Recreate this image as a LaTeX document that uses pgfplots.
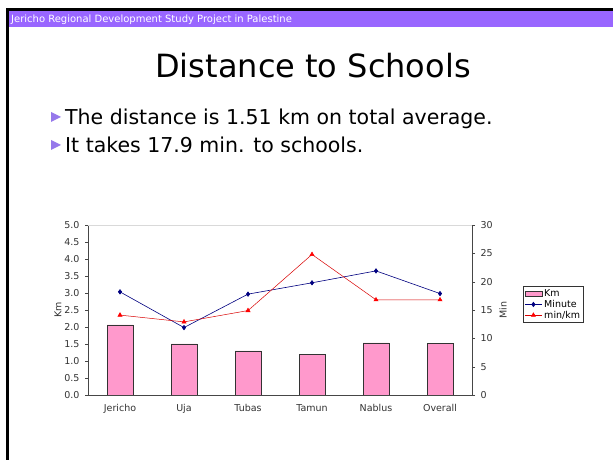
\documentclass[border=0pt]{standalone}
\usepackage{pgfplots}
\pgfplotsset{compat=1.18}
\usepackage{fontspec}
\setmainfont{DejaVu Sans}

\definecolor{hdrpurple}{RGB}{153,102,255}
\definecolor{bulletpurple}{RGB}{150,120,235}
\definecolor{barpink}{RGB}{255,153,204}
\definecolor{navyline}{RGB}{0,0,128}
\definecolor{axisgray}{RGB}{70,70,70}

\begin{document}
\begin{tikzpicture}[x=1pt,y=1pt]
\path[use as bounding box, fill=white] (0,0) rectangle (613,460);

% slide frame and header bar
\fill[hdrpurple] (9,433) rectangle (613,449.5);
\draw[black, line width=2.5pt] (7.5,0) -- (7.5,450.5) -- (613,450.5);
\node[anchor=base west, text=white, inner sep=0pt, font=\fontsize{10}{11}\selectfont]
  at (11,437) {Jericho Regional Development Study Project in Palestine};

% title and bullets
\node[anchor=base, inner sep=0pt, font=\fontsize{32}{36}\selectfont]
  at (313,382) {Distance to Schools};
\fill[bulletpurple] (51,348) -- (61,343) -- (51,338) -- cycle;
\fill[bulletpurple] (51,320) -- (61,315) -- (51,310) -- cycle;
\node[anchor=base west, inner sep=0pt, font=\fontsize{20.5}{24}\selectfont]
  at (65,335) {The distance is 1.51 km on total average.};
\node[anchor=base west, inner sep=0pt, font=\fontsize{20.5}{24}\selectfont]
  at (65,307) {It takes 17.9 min. to schools.};

% chart: distance (left axis)
\begin{axis}[
  at={(88pt,65pt)}, anchor=south west,
  width=384pt, height=170pt, scale only axis,
  xmin=-0.5, xmax=5.5,
  ymin=0, ymax=5,
  xtick={0,1,2,3,4,5},
  xticklabels={Jericho,Uja,Tubas,Tamun,Nablus,Overall},
  x tick style={draw=none},
  ytick={0,0.5,...,5},
  yticklabel style={xshift=-2pt, /pgf/number format/.cd, fixed, fixed zerofill, precision=1},
  /pgf/number format/assume math mode=true,
  axis x line*=bottom, axis y line*=left,
  axis line style={axisgray, line width=0.6pt},
  tick align=outside, major tick length=3pt,
  y tick style={axisgray},
  tick label style={font=\fontsize{9.5}{11}\selectfont, text=black!80},
  xticklabel style={yshift=-3pt},
  ylabel={Km}, ylabel style={font=\fontsize{9.5}{11}\selectfont, text=black!80, yshift=-4pt},
  ybar, bar width=26pt,
]
\draw[black!15, line width=0.6pt] (rel axis cs:0,1) -- (rel axis cs:1,1);
\addplot[fill=barpink, draw=black!80, line width=0.5pt] coordinates {
  (0,2.06) (1,1.50) (2,1.30) (3,1.20) (4,1.53) (5,1.51)
};
\end{axis}

% chart: minutes (right axis)
\begin{axis}[
  at={(88pt,65pt)}, anchor=south west,
  width=384pt, height=170pt, scale only axis,
  xmin=-0.5, xmax=5.5,
  ymin=0, ymax=30,
  axis x line=none, axis y line*=right,
  axis line style={axisgray, line width=0.6pt},
  ytick={0,5,...,30},
  /pgf/number format/assume math mode=true,
  tick align=outside, major tick length=3pt,
  y tick style={axisgray},
  tick label style={font=\fontsize{9.5}{11}\selectfont, text=black!80},
  yticklabel style={xshift=2pt},
  ylabel={Min}, ylabel style={font=\fontsize{9.5}{11}\selectfont, text=black!80},
  legend style={at={(1.133,0.64)}, anchor=north west,
    font=\fontsize{9.5}{11}\selectfont, draw=black!80, line width=0.6pt,
    inner sep=1.2pt, row sep=-2pt, cells={anchor=west}},
]
\addlegendimage{area legend, fill=barpink, draw=black!80}
\addlegendentry{Km}
\addplot[navyline, line width=0.6pt, mark=diamond*, mark size=2.2pt,
  mark options={fill=navyline}] coordinates {
  (0,18.2) (1,11.9) (2,17.8) (3,19.8) (4,21.9) (5,17.9)
};
\addlegendentry{Minute}
\addplot[red!85!black, line width=0.5pt, mark=triangle*, mark size=2.4pt,
  mark options={fill=red, draw=red}] coordinates {
  (0,14.1) (1,12.9) (2,14.9) (3,24.8) (4,16.8) (5,16.8)
};
\addlegendentry{min/km}
\end{axis}
\end{tikzpicture}
\end{document}
